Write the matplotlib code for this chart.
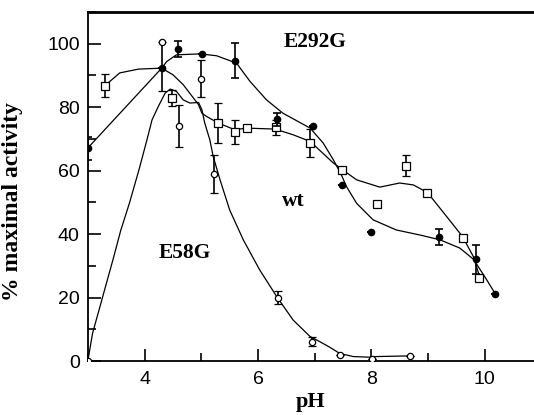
import matplotlib
matplotlib.use('agg')
import matplotlib.pyplot as plt
from matplotlib.ticker import MultipleLocator

# measured points
e292g_ph = [3.00, 4.30, 4.59, 5.01, 5.59, 6.34, 6.97, 7.49, 7.99, 9.19, 9.84, 10.18]
e292g_act = [67.0, 92.5, 98.4, 96.7, 94.6, 76.2, 74.2, 55.5, 40.8, 39.2, 32.1, 21.1]
e292g_err = [3.5, 0, 2.5, 0, 5.5, 2.0, 0, 0, 0, 2.5, 4.6, 0]

wt_ph = [3.30, 4.49, 5.30, 5.59, 5.80, 6.31, 6.92, 7.49, 8.10, 8.61, 8.99, 9.61, 9.90]
wt_act = [86.8, 82.9, 75.0, 72.3, 73.4, 73.6, 68.7, 60.3, 49.4, 61.6, 53.1, 38.7, 26.1]
wt_err = [3.7, 2.5, 6.4, 3.8, 0, 2.5, 4.3, 0, 0, 3.3, 0, 0, 0]

e58g_ph = [3.00, 4.30, 4.60, 4.99, 5.23, 6.36, 6.96, 7.45, 8.01, 8.69]
e58g_act = [0.0, 100.5, 74.1, 89.0, 58.9, 20.0, 6.1, 2.0, 0.7, 1.6]
e58g_err_lo = [0, 15.5, 6.5, 5.8, 6.0, 2.0, 1.5, 0, 0, 0]
e58g_err_hi = [0, 0, 6.5, 5.8, 6.0, 2.0, 1.5, 0, 0, 0]

# fitted curves
e292g_fit_ph = [3.00, 4.30, 4.39, 4.56, 4.98, 5.27, 5.62, 5.86, 6.15, 6.44, 6.92, 7.15,
                7.33, 7.47, 7.56, 7.74, 8.03, 8.44, 8.86, 9.21, 9.56, 9.80, 10.00, 10.18]
e292g_fit = [67.2, 92.3, 94.4, 96.5, 96.8, 96.2, 93.9, 88.1, 82.3, 78.1, 73.4, 68.7,
             63.4, 58.7, 55.0, 49.7, 44.5, 41.3, 39.7, 38.2, 35.6, 32.1, 26.6, 21.4]

wt_fit_ph = [3.30, 3.56, 3.89, 4.30, 4.50, 4.68, 4.86, 4.95, 5.01, 5.09, 5.30, 5.59, 5.80,
             6.30, 6.62, 6.92, 7.33, 7.49, 7.74, 8.15, 8.50, 8.74, 8.99, 9.33, 9.61, 9.80, 9.91]
wt_fit = [86.8, 90.8, 92.0, 92.3, 90.2, 87.1, 82.9, 80.8, 78.1, 77.1, 75.0, 72.9, 73.4,
          73.1, 71.3, 69.2, 62.4, 60.3, 57.1, 54.8, 56.1, 55.5, 53.1, 45.5, 39.2, 32.9, 26.6]

e58g_fit_ph = [3.00, 3.08, 3.26, 3.44, 3.58, 3.73, 3.90, 4.04, 4.13, 4.24, 4.36, 4.45, 4.56,
               4.68, 4.80, 4.95, 5.01, 5.06, 5.15, 5.21, 5.33, 5.50, 5.74, 6.03, 6.33, 6.62,
               6.92, 7.09, 7.27, 7.44, 7.68, 7.97, 8.09, 8.65]
e58g_fit = [0.3, 8.7, 20.3, 31.9, 41.3, 49.7, 60.3, 69.7, 76.0, 80.2, 84.4, 85.7, 85.0,
            82.3, 81.3, 81.5, 79.2, 75.0, 69.7, 64.4, 57.1, 47.6, 38.2, 28.7, 20.3, 12.9,
            7.7, 6.1, 4.3, 2.4, 1.4, 1.2, 1.4, 1.6]

fig = plt.figure(figsize=(5.34, 4.15), dpi=100)
ax = fig.add_axes([88 / 534, 54 / 415, 446 / 534, 349 / 415])

ax.plot(e292g_fit_ph, e292g_fit, color='black', lw=0.9)
ax.plot(wt_fit_ph, wt_fit, color='black', lw=0.9)
ax.plot(e58g_fit_ph, e58g_fit, color='black', lw=0.9)

ax.errorbar(wt_ph, wt_act, yerr=wt_err, fmt='s', ms=5.5, mfc='white', mec='black',
            mew=0.9, ecolor='black', elinewidth=1.2, capsize=2.8, capthick=1.2, zorder=3)
ax.errorbar(e58g_ph, e58g_act, yerr=[e58g_err_lo, e58g_err_hi], fmt='o', ms=4.5,
            mfc='white', mec='black', mew=0.9, ecolor='black', elinewidth=1.2,
            capsize=2.8, capthick=1.2, zorder=3)
ax.errorbar(e292g_ph, e292g_act, yerr=e292g_err, fmt='o', ms=4.5, mfc='black', mec='black',
            ecolor='black', elinewidth=1.2, capsize=2.8, capthick=1.2, zorder=4)

lab = dict(family='Liberation Serif', fontweight='bold', fontsize=15.5)
ax.text(7.0, 100.6, 'E292G', ha='center', va='center', **lab)
ax.text(6.63, 50.5, 'wt', ha='center', va='center', **lab)
ax.text(4.71, 34, 'E58G', ha='center', va='center', **lab)

ax.set_xlim(3, 10.87)
ax.set_ylim(0, 110)
ax.xaxis.set_major_locator(MultipleLocator(2))
ax.xaxis.set_minor_locator(MultipleLocator(1))
ax.yaxis.set_major_locator(MultipleLocator(20))
ax.yaxis.set_minor_locator(MultipleLocator(10))
ax.tick_params(which='both', direction='in', top=False, right=False, width=1.2,
               labelsize=14, labelfontfamily='Liberation Sans')
ax.tick_params(which='major', length=9)
ax.tick_params(which='minor', length=6)
ax.tick_params(axis='x', pad=7)
ax.tick_params(axis='y', pad=6)
for s in ax.spines.values():
    s.set_linewidth(1.3)
ax.spines['top'].set_linewidth(2)
ax.spines['right'].set_visible(False)

ax.set_xlabel('pH', family='Liberation Serif', fontweight='bold', fontsize=16)
ax.set_ylabel('% maximal activity', family='Liberation Serif', fontweight='bold', fontsize=17)
ax.xaxis.set_label_coords(0.5, -0.09)
ax.yaxis.set_label_coords(-0.145, 0.456)

plt.savefig('out.png', dpi=100)
plt.close()
